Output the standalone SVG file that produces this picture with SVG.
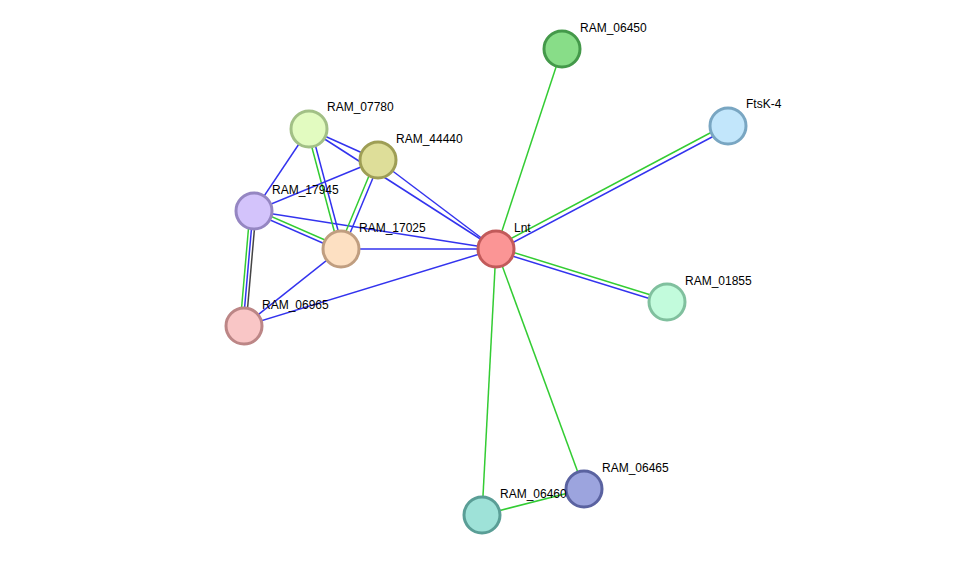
<svg xmlns="http://www.w3.org/2000/svg" width="976" height="561" viewBox="0 0 976 561">
<style>
.g{stroke:#33cc33;stroke-width:1.5;fill:none}
.b{stroke:#3333ee;stroke-width:1.5;fill:none}
.k{stroke:#444;stroke-width:1.5;fill:none}
.n{stroke-width:3}
text{font-family:"Liberation Sans",Arial,sans-serif;font-size:12px;fill:#000}
</style>
<rect width="976" height="561" fill="#fff"/>
<g id="edges">
<line class="g" x1="496" y1="249" x2="562" y2="49"/>
<line class="g" x1="495" y1="247" x2="727" y2="124"/>
<line class="b" x1="497" y1="251" x2="729" y2="128"/>
<line class="g" x1="496" y1="247" x2="667" y2="300"/>
<line class="b" x1="496" y1="251" x2="667" y2="304"/>
<line class="g" x1="496" y1="249" x2="482" y2="515"/>
<line class="g" x1="496" y1="249" x2="584" y2="489"/>
<line class="g" x1="482" y1="515" x2="584" y2="489"/>
<line class="b" x1="496" y1="249" x2="378" y2="160"/>
<line class="b" x1="496" y1="249" x2="309" y2="129"/>
<line class="b" x1="496" y1="249" x2="341" y2="249"/>
<line class="b" x1="496" y1="249" x2="254" y2="211"/>
<line class="b" x1="496" y1="249" x2="244" y2="326"/>
<line class="b" x1="309" y1="129" x2="378" y2="160"/>
<line class="b" x1="309" y1="129" x2="254" y2="211"/>
<line class="g" x1="307" y1="129" x2="339" y2="249"/>
<line class="b" x1="311" y1="129" x2="343" y2="249"/>
<line class="b" x1="378" y1="160" x2="254" y2="211"/>
<line class="g" x1="376" y1="159" x2="339" y2="248"/>
<line class="b" x1="380" y1="161" x2="343" y2="250"/>
<line class="g" x1="254" y1="209" x2="341" y2="247"/>
<line class="b" x1="254" y1="213" x2="341" y2="251"/>
<line class="g" x1="250" y1="211" x2="240" y2="326"/>
<line class="b" x1="253" y1="211" x2="243" y2="326"/>
<line class="k" x1="256" y1="211" x2="246" y2="326"/>
<line class="b" x1="341" y1="249" x2="244" y2="326"/>
</g>
<g id="RAM_06450"><circle class="n" cx="562" cy="49" r="18" fill="#88dd88" stroke="#44994a"/><text x="580" y="32">RAM_06450</text></g>
<g id="FtsK-4"><circle class="n" cx="728" cy="126" r="18" fill="#c2e6fb" stroke="#79a6c2"/><text x="746" y="108">FtsK-4</text></g>
<g id="RAM_07780"><circle class="n" cx="309" cy="129" r="18" fill="#e2fbc0" stroke="#a2c086"/><text x="327" y="111">RAM_07780</text></g>
<g id="RAM_44440"><circle class="n" cx="378" cy="160" r="18" fill="#dede99" stroke="#9e9e55"/><text x="396" y="143">RAM_44440</text></g>
<g id="RAM_17945"><circle class="n" cx="254" cy="211" r="18" fill="#d3c3fb" stroke="#9586c2"/><text x="272" y="194">RAM_17945</text></g>
<g id="RAM_17025"><circle class="n" cx="341" cy="249" r="18" fill="#fde0c2" stroke="#c09e80"/><text x="359" y="232">RAM_17025</text></g>
<g id="Lnt"><circle class="n" cx="496" cy="249" r="18" fill="#fb9595" stroke="#c25a5a"/><text x="514" y="232">Lnt</text></g>
<g id="RAM_01855"><circle class="n" cx="667" cy="302" r="18" fill="#c2fbdc" stroke="#80c09e"/><text x="685" y="285">RAM_01855</text></g>
<g id="RAM_06965"><circle class="n" cx="244" cy="326" r="18" fill="#f9c6c6" stroke="#bc8686"/><text x="262" y="309">RAM_06965</text></g>
<g id="RAM_06465"><circle class="n" cx="584" cy="489" r="18" fill="#9ca4de" stroke="#5a62a0"/><text x="602" y="472">RAM_06465</text></g>
<g id="RAM_06460"><circle class="n" cx="482" cy="515" r="18" fill="#9ee2d8" stroke="#5a9e96"/><text x="500" y="498">RAM_06460</text></g>
</svg>
